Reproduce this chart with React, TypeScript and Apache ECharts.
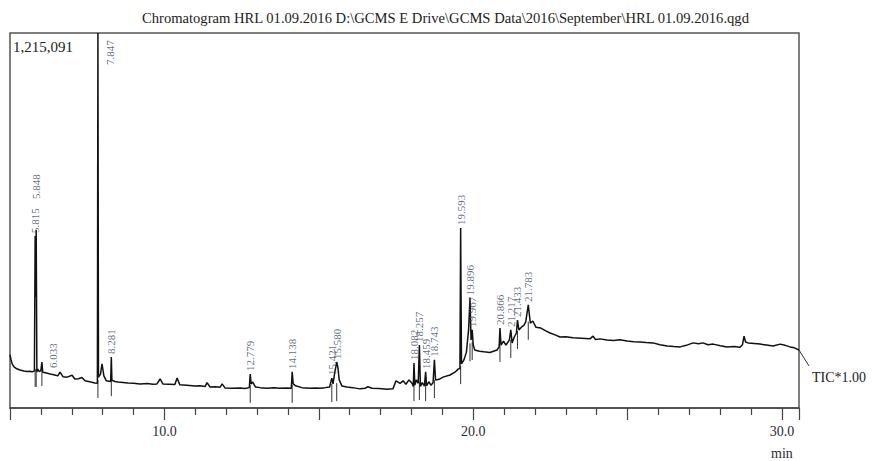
import React, { useEffect, useRef } from "react";
import * as echarts from "echarts";

// Total ion chromatogram: [retention time (min), intensity (counts)]
const ticTrace: [number, number][] = [
  [5.0, 172000], [5.03, 158000], [5.07, 143000], [5.13, 133000], [5.22, 127000], [5.32, 123000],
  [5.45, 120000], [5.55, 118000], [5.65, 119000], [5.71, 117000], [5.79, 120000], [5.815, 557000],
  [5.83, 360000], [5.848, 577000], [5.87, 117000], [5.9, 126000], [5.95, 118000], [6.0, 121000],
  [6.033, 149000], [6.06, 116000], [6.15, 114000], [6.3, 110000], [6.45, 107000], [6.55, 104000],
  [6.62, 116000], [6.72, 101000], [6.85, 100000], [7.01, 106000], [7.1, 94000], [7.22, 95000],
  [7.33, 99000], [7.43, 88000], [7.58, 85000], [7.75, 81000], [7.83, 80000], [7.847, 1215091],
  [7.865, 100000], [7.93, 110000], [7.98, 143000], [8.04, 104000], [8.12, 88000], [8.26, 86000],
  [8.281, 165000], [8.3, 90000], [8.4, 86000], [8.5, 84000], [8.66, 83000], [8.82, 81000],
  [9.0, 80000], [9.21, 78000], [9.45, 79000], [9.62, 77000], [9.76, 78000], [9.86, 94000],
  [9.95, 78000], [10.15, 77000], [10.34, 76000], [10.41, 97000], [10.5, 75000], [10.72, 74000],
  [10.99, 71000], [11.15, 72000], [11.32, 70000], [11.38, 82000], [11.48, 68000], [11.65, 69000],
  [11.8, 67000], [11.87, 78000], [11.96, 65000], [12.2, 64000], [12.45, 65000], [12.6, 63000],
  [12.75, 66000], [12.779, 110000], [12.81, 78000], [12.86, 84000], [12.95, 68000], [13.1, 66000],
  [13.32, 64000], [13.55, 66000], [13.74, 64000], [13.95, 65000], [14.11, 64000], [14.138, 117000],
  [14.17, 78000], [14.25, 72000], [14.45, 66000], [14.72, 64000], [14.9, 65000], [15.04, 64000],
  [15.2, 66000], [15.35, 68000], [15.421, 97000], [15.46, 78000], [15.52, 117000], [15.58, 149000],
  [15.62, 130000], [15.66, 91000], [15.75, 71000], [15.91, 68000], [16.1, 66000], [16.33, 62000],
  [16.5, 64000], [16.59, 69000], [16.72, 64000], [16.95, 63000], [17.21, 61000], [17.4, 62000],
  [17.5, 88000], [17.57, 84000], [17.63, 80000], [17.73, 88000], [17.82, 77000], [17.92, 91000],
  [18.02, 80000], [18.06, 70000], [18.082, 146000], [18.11, 74000], [18.16, 91000], [18.22, 80000],
  [18.257, 204000], [18.29, 70000], [18.35, 82000], [18.42, 71000], [18.459, 117000], [18.49, 72000],
  [18.56, 85000], [18.63, 74000], [18.7, 82000], [18.743, 156000], [18.78, 91000], [18.9, 93000],
  [19.02, 100000], [19.25, 107000], [19.41, 116000], [19.51, 126000], [19.57, 128000], [19.593, 583000],
  [19.62, 143000], [19.7, 156000], [19.78, 181000], [19.85, 253000], [19.896, 356000], [19.93, 220000],
  [19.967, 253000], [20.0, 204000], [20.05, 188000], [20.2, 184000], [20.35, 182000], [20.54, 180000],
  [20.77, 188000], [20.84, 198000], [20.866, 259000], [20.9, 204000], [20.98, 217000], [21.06, 204000],
  [21.17, 220000], [21.217, 253000], [21.26, 211000], [21.33, 230000], [21.4, 243000], [21.433, 285000],
  [21.48, 253000], [21.56, 262000], [21.64, 268000], [21.7, 279000], [21.783, 334000], [21.85, 275000],
  [21.93, 282000], [22.03, 262000], [22.19, 259000], [22.35, 250000], [22.49, 243000], [22.65, 237000],
  [22.81, 230000], [23.0, 231000], [23.23, 228000], [23.5, 226000], [23.78, 224000], [23.88, 233000],
  [23.96, 222000], [24.11, 224000], [24.33, 220000], [24.55, 219000], [24.75, 221000], [24.98, 217000],
  [25.2, 215000], [25.4, 214000], [25.6, 212000], [25.82, 211000], [26.05, 205000], [26.28, 201000],
  [26.5, 199000], [26.7, 198000], [26.9, 203000], [27.12, 211000], [27.3, 208000], [27.44, 211000],
  [27.6, 205000], [27.77, 207000], [28.0, 202000], [28.22, 198000], [28.45, 199000], [28.64, 197000],
  [28.72, 205000], [28.77, 233000], [28.82, 214000], [28.9, 211000], [29.1, 209000], [29.29, 207000],
  [29.5, 204000], [29.71, 201000], [29.94, 207000], [30.1, 203000], [30.26, 198000], [30.4, 195000],
  [30.55, 188000],
];

// Identified peaks (retention times) and the baseline level under each
const peakTimes = [
  5.815, 5.848, 6.033, 7.847, 8.281, 12.779, 14.138, 15.421, 15.58, 18.082,
  18.257, 18.459, 18.743, 19.593, 19.896, 19.967, 20.866, 21.217, 21.433, 21.783,
];
const peakLabels = [
  "5.815", "5.848", "6.033", "7.847", "8.281", "12.779", "14.138", "15.421", "15.580", "18.082",
  "18.257", "18.459", "18.743", "19.593", "19.896", "19.967", "20.866", "21.217", "21.433", "21.783",
];
const peakBaseline = [
  117000, 117000, 120000, 81000, 87000, 65000, 65000, 68000, 71000, 71000,
  75000, 71000, 81000, 126000, 200000, 204000, 198000, 211000, 240000, 270000,
];

const maxIntensity = 1215091;
const axisMin = 5;
const axisMax = 30.55;
const labelledTicks = [10, 20, 30];

const titleText =
  "Chromatogram HRL 01.09.2016 D:\\GCMS E Drive\\GCMS Data\\2016\\September\\HRL 01.09.2016.qgd";

// label placement tweaks (layout only), offsets in rotated text frame
const labelOffsets: Record<string, [number, number]> = {
  "5.848": [28, 0],
  "6.033": [-9, 11],
  "7.847": [-35, 12],
};

const SERIF = "'Liberation Serif', 'Times New Roman', serif";

export default function App() {
  const ref = useRef<HTMLDivElement>(null);
  useEffect(() => {
    if (!ref.current) return;
    const chart = echarts.init(ref.current, undefined, { renderer: "svg" });

    const topAt = (t: number) => {
      const p = ticTrace.find((d) => Math.abs(d[0] - t) < 1e-6);
      return p ? p[1] : 0;
    };

    const labelData = peakTimes.map((t, i) => {
      const off = labelOffsets[peakLabels[i]];
      return {
        value: [t, topAt(t)],
        name: peakLabels[i],
        label: off ? { offset: off } : undefined,
      };
    });

    chart.setOption({
      animation: false,
      backgroundColor: "#ffffff",
      title: {
        text: titleText,
        left: 137,
        top: 5,
        textStyle: { fontSize: 14.6, fontWeight: "normal", fontFamily: SERIF, color: "#222" },
      },
      grid: {
        left: 10,
        top: 33,
        right: 73,
        bottom: 53,
        show: true,
        borderColor: "#555",
        borderWidth: 1.5,
        backgroundColor: "transparent",
      },
      xAxis: {
        type: "value",
        min: axisMin,
        max: axisMax,
        interval: 5,
        axisLine: { show: true, lineStyle: { color: "#444", width: 1.5 } },
        axisTick: { show: true, length: 12, lineStyle: { color: "#444", width: 1.2 } },
        minorTick: { show: true, splitNumber: 5, length: 7, lineStyle: { color: "#444", width: 1.2 } },
        splitLine: { show: false },
        minorSplitLine: { show: false },
        axisLabel: {
          margin: 16,
          fontSize: 14,
          fontFamily: SERIF,
          color: "#2a2a3a",
          formatter: (v: number) => (labelledTicks.includes(Math.round(v * 100) / 100) ? v.toFixed(1) : ""),
        },
      },
      yAxis: {
        type: "value",
        min: 0,
        max: maxIntensity,
        show: false,
        splitLine: { show: false },
      },
      graphic: [
        {
          type: "text",
          left: 13,
          top: 39,
          style: { text: "1,215,091", fontSize: 15, fontFamily: SERIF, fill: "#222" },
        },
        {
          type: "line",
          shape: { x1: 799, y1: 350, x2: 809, y2: 366 },
          style: { stroke: "#333", lineWidth: 1 },
        },
        {
          type: "text",
          left: 812,
          top: 370,
          style: { text: "TIC*1.00", fontSize: 14, fontFamily: SERIF, fill: "#222" },
        },
        {
          type: "text",
          left: 771,
          top: 446,
          style: { text: "min", fontSize: 14, fontFamily: SERIF, fill: "#2a2a3a" },
        },
      ],
      series: [
        {
          type: "line",
          data: ticTrace,
          showSymbol: false,
          symbol: "none",
          lineStyle: { color: "#111", width: 1.5 },
          z: 3,
        },
        {
          type: "custom",
          data: peakTimes.map((t, i) => [t, peakBaseline[i]]),
          renderItem: (params: any, api: any) => {
            const p = api.coord([api.value(0), api.value(1)]);
            return {
              type: "line",
              shape: { x1: p[0], y1: p[1] - 3, x2: p[0], y2: p[1] + 15 },
              style: { stroke: "#333", lineWidth: 1 },
            };
          },
          z: 2,
        },
        {
          type: "scatter",
          data: labelData,
          symbolSize: 0,
          silent: true,
          label: {
            show: true,
            position: "top",
            distance: 3,
            rotate: 90,
            align: "left",
            verticalAlign: "middle",
            fontSize: 11,
            fontFamily: SERIF,
            color: "#3b4566",
            formatter: (p: any) => p.name,
          },
          z: 4,
        },
      ],
    });
    return () => chart.dispose();
  }, []);

  return (
    <div
      ref={ref}
      style={{ position: "fixed", left: 0, top: 0, width: 872, height: 461, background: "#fff" }}
    />
  );
}
